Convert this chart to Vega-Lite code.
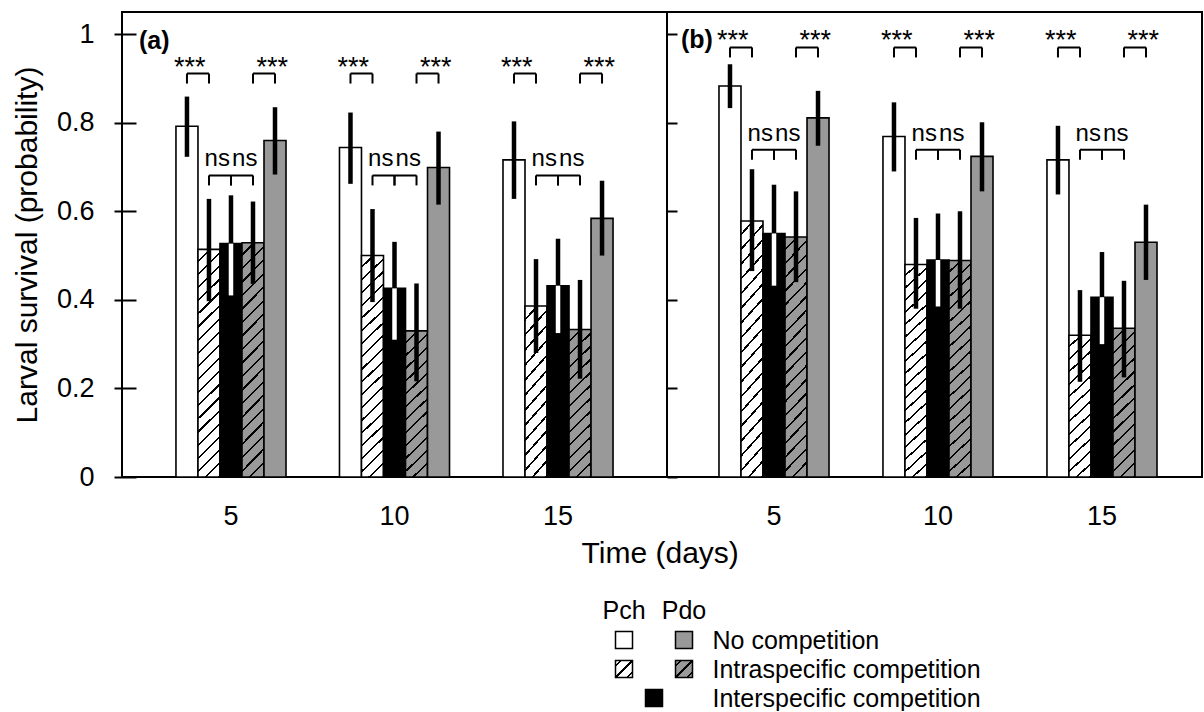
{
  "$schema": "https://vega.github.io/schema/vega-lite/v6.json",
  "padding": {"left": 11, "top": 11, "right": 0, "bottom": 0},
  "config": {
    "font": "Liberation Sans",
    "view": {"stroke": "black", "strokeWidth": 2},
    "axis": {"labelColor": "black", "titleColor": "black", "tickColor": "black", "labelFont": "Liberation Sans", "titleFont": "Liberation Sans"},
    "title": {"color": "black", "font": "Liberation Sans"},
    "text": {"font": "Liberation Sans", "color": "black"}
  },
  "datasets": {
    "bars": [
      {"panel":"a","day":5,"bar":"Pch none","value":0.792,"lo":0.723,"hi":0.859},
      {"panel":"a","day":5,"bar":"Pch intra","value":0.514,"lo":0.397,"hi":0.628},
      {"panel":"a","day":5,"bar":"Inter","value":0.527,"lo":0.41,"hi":0.636},
      {"panel":"a","day":5,"bar":"Pdo intra","value":0.529,"lo":0.436,"hi":0.622},
      {"panel":"a","day":5,"bar":"Pdo none","value":0.76,"lo":0.683,"hi":0.835},
      {"panel":"a","day":10,"bar":"Pch none","value":0.744,"lo":0.662,"hi":0.823},
      {"panel":"a","day":10,"bar":"Pch intra","value":0.5,"lo":0.395,"hi":0.605},
      {"panel":"a","day":10,"bar":"Inter","value":0.426,"lo":0.31,"hi":0.531},
      {"panel":"a","day":10,"bar":"Pdo intra","value":0.33,"lo":0.216,"hi":0.437},
      {"panel":"a","day":10,"bar":"Pdo none","value":0.699,"lo":0.615,"hi":0.78},
      {"panel":"a","day":15,"bar":"Pch none","value":0.716,"lo":0.628,"hi":0.803},
      {"panel":"a","day":15,"bar":"Pch intra","value":0.386,"lo":0.28,"hi":0.492},
      {"panel":"a","day":15,"bar":"Inter","value":0.432,"lo":0.325,"hi":0.538},
      {"panel":"a","day":15,"bar":"Pdo intra","value":0.333,"lo":0.222,"hi":0.445},
      {"panel":"a","day":15,"bar":"Pdo none","value":0.584,"lo":0.5,"hi":0.669},
      {"panel":"b","day":5,"bar":"Pch none","value":0.883,"lo":0.833,"hi":0.932},
      {"panel":"b","day":5,"bar":"Pch intra","value":0.578,"lo":0.465,"hi":0.695},
      {"panel":"b","day":5,"bar":"Inter","value":0.55,"lo":0.432,"hi":0.66},
      {"panel":"b","day":5,"bar":"Pdo intra","value":0.542,"lo":0.44,"hi":0.645},
      {"panel":"b","day":5,"bar":"Pdo none","value":0.811,"lo":0.748,"hi":0.872},
      {"panel":"b","day":10,"bar":"Pch none","value":0.769,"lo":0.69,"hi":0.846},
      {"panel":"b","day":10,"bar":"Pch intra","value":0.48,"lo":0.38,"hi":0.585},
      {"panel":"b","day":10,"bar":"Inter","value":0.49,"lo":0.385,"hi":0.595},
      {"panel":"b","day":10,"bar":"Pdo intra","value":0.489,"lo":0.38,"hi":0.6},
      {"panel":"b","day":10,"bar":"Pdo none","value":0.724,"lo":0.645,"hi":0.801},
      {"panel":"b","day":15,"bar":"Pch none","value":0.716,"lo":0.638,"hi":0.793},
      {"panel":"b","day":15,"bar":"Pch intra","value":0.32,"lo":0.215,"hi":0.422},
      {"panel":"b","day":15,"bar":"Inter","value":0.406,"lo":0.3,"hi":0.508},
      {"panel":"b","day":15,"bar":"Pdo intra","value":0.336,"lo":0.225,"hi":0.443},
      {"panel":"b","day":15,"bar":"Pdo none","value":0.53,"lo":0.445,"hi":0.615}
    ],
    "brackets": [
      {"panel":"a","day":5,"junction":"j1","from":"Pch none","to":"Pch intra","label":"***","top":0.911},
      {"panel":"a","day":5,"junction":"j2","from":"Pch intra","to":"Inter","label":"ns","top":0.681},
      {"panel":"a","day":5,"junction":"j3","from":"Inter","to":"Pdo intra","label":"ns","top":0.681},
      {"panel":"a","day":5,"junction":"j4","from":"Pdo intra","to":"Pdo none","label":"***","top":0.911},
      {"panel":"a","day":10,"junction":"j1","from":"Pch none","to":"Pch intra","label":"***","top":0.911},
      {"panel":"a","day":10,"junction":"j2","from":"Pch intra","to":"Inter","label":"ns","top":0.681},
      {"panel":"a","day":10,"junction":"j3","from":"Inter","to":"Pdo intra","label":"ns","top":0.681},
      {"panel":"a","day":10,"junction":"j4","from":"Pdo intra","to":"Pdo none","label":"***","top":0.911},
      {"panel":"a","day":15,"junction":"j1","from":"Pch none","to":"Pch intra","label":"***","top":0.911},
      {"panel":"a","day":15,"junction":"j2","from":"Pch intra","to":"Inter","label":"ns","top":0.681},
      {"panel":"a","day":15,"junction":"j3","from":"Inter","to":"Pdo intra","label":"ns","top":0.681},
      {"panel":"a","day":15,"junction":"j4","from":"Pdo intra","to":"Pdo none","label":"***","top":0.911},
      {"panel":"b","day":5,"junction":"j1","from":"Pch none","to":"Pch intra","label":"***","top":0.97},
      {"panel":"b","day":5,"junction":"j2","from":"Pch intra","to":"Inter","label":"ns","top":0.739},
      {"panel":"b","day":5,"junction":"j3","from":"Inter","to":"Pdo intra","label":"ns","top":0.739},
      {"panel":"b","day":5,"junction":"j4","from":"Pdo intra","to":"Pdo none","label":"***","top":0.97},
      {"panel":"b","day":10,"junction":"j1","from":"Pch none","to":"Pch intra","label":"***","top":0.97},
      {"panel":"b","day":10,"junction":"j2","from":"Pch intra","to":"Inter","label":"ns","top":0.739},
      {"panel":"b","day":10,"junction":"j3","from":"Inter","to":"Pdo intra","label":"ns","top":0.739},
      {"panel":"b","day":10,"junction":"j4","from":"Pdo intra","to":"Pdo none","label":"***","top":0.97},
      {"panel":"b","day":15,"junction":"j1","from":"Pch none","to":"Pch intra","label":"***","top":0.97},
      {"panel":"b","day":15,"junction":"j2","from":"Pch intra","to":"Inter","label":"ns","top":0.739},
      {"panel":"b","day":15,"junction":"j3","from":"Inter","to":"Pdo intra","label":"ns","top":0.739},
      {"panel":"b","day":15,"junction":"j4","from":"Pdo intra","to":"Pdo none","label":"***","top":0.97}
    ],
    "legend": [
      {"row":"hdr","col":"Pch","label":"Pch"},
      {"row":"hdr","col":"Pdo","label":"Pdo"},
      {"row":"No competition","col":"Pch","key":"Pch none"},
      {"row":"No competition","col":"Pdo","key":"Pdo none"},
      {"row":"Intraspecific competition","col":"Pch","key":"Pch intra"},
      {"row":"Intraspecific competition","col":"Pdo","key":"Pdo intra"},
      {"row":"Interspecific competition","col":"Both","key":"Inter"}
    ]
  },
  "spacing": 30,
  "vconcat": [
    {
      "spacing": 0,
      "bounds": "flush",
      "title": {"text": "Time (days)", "orient": "bottom", "anchor": "middle", "fontSize": 30, "fontWeight": "normal", "offset": 9, "dx": 53},
      "hconcat": [
        {
          "width": 545,
          "height": 465,
          "title": {"text": "(a)", "anchor": "start", "frame": "group", "offset": -42, "dx": 17, "fontSize": 25, "fontWeight": "bold"},
          "resolve": {"scale": {"xOffset": "independent"}},
          "layer": [
            {
              "data": {"name": "bars"},
              "transform": [{"filter": "datum.panel === 'a'"}],
              "mark": {"type": "bar", "stroke": "black", "strokeWidth": 1.6},
              "encoding": {
                "x": {"field": "day", "type": "nominal", "scale": {"domain": [5, 10, 15], "paddingInner": 0.327, "paddingOuter": 0.33}, "axis": {"title": null, "labelAngle": 0, "labelFontSize": 27, "labelPadding": 26, "ticks": false, "tickSize": 0, "domain": false}},
                "xOffset": {"field": "bar", "type": "nominal", "scale": {"domain": ["Pch none", "Pch intra", "Inter", "Pdo intra", "Pdo none"], "paddingInner": 0, "paddingOuter": 0}},
                "y": {"field": "value", "type": "quantitative", "scale": {"domain": [0, 1.05], "nice": false}, "axis": {"title": "Larval survival (probability)", "titleFontSize": 30, "titleFontWeight": "normal", "titlePadding": 14, "labelFontSize": 27, "labelPadding": 20, "tickSize": 22, "tickWidth": 2, "offset": -14, "domain": false, "values": [0, 0.2, 0.4, 0.6, 0.8, 1], "format": "~g", "grid": false}},
                "fill": {
                  "condition": [
                    {"test": "datum.bar === 'Inter'", "value": "#000000"},
                    {"test": "datum.bar === 'Pdo none'", "value": "#999999"},
                    {"test": "datum.bar === 'Pch intra' && datum.value < 0.42", "value": {"gradient": "linear", "x1": 0, "y1": 0, "x2": 0.1623, "y2": 1.1213, "stops": [
                      {"offset":0,"color":"#ffffff"},{"offset":0.0638,"color":"#ffffff"},{"offset":0.0638,"color":"#000000"},{"offset":0.0769,"color":"#000000"},
                      {"offset":0.0769,"color":"#ffffff"},{"offset":0.1408,"color":"#ffffff"},{"offset":0.1408,"color":"#000000"},{"offset":0.1538,"color":"#000000"},
                      {"offset":0.1538,"color":"#ffffff"},{"offset":0.2177,"color":"#ffffff"},{"offset":0.2177,"color":"#000000"},{"offset":0.2308,"color":"#000000"},
                      {"offset":0.2308,"color":"#ffffff"},{"offset":0.2946,"color":"#ffffff"},{"offset":0.2946,"color":"#000000"},{"offset":0.3077,"color":"#000000"},
                      {"offset":0.3077,"color":"#ffffff"},{"offset":0.3715,"color":"#ffffff"},{"offset":0.3715,"color":"#000000"},{"offset":0.3846,"color":"#000000"},
                      {"offset":0.3846,"color":"#ffffff"},{"offset":0.4485,"color":"#ffffff"},{"offset":0.4485,"color":"#000000"},{"offset":0.4615,"color":"#000000"},
                      {"offset":0.4615,"color":"#ffffff"},{"offset":0.5254,"color":"#ffffff"},{"offset":0.5254,"color":"#000000"},{"offset":0.5385,"color":"#000000"},
                      {"offset":0.5385,"color":"#ffffff"},{"offset":0.6023,"color":"#ffffff"},{"offset":0.6023,"color":"#000000"},{"offset":0.6154,"color":"#000000"},
                      {"offset":0.6154,"color":"#ffffff"},{"offset":0.6792,"color":"#ffffff"},{"offset":0.6792,"color":"#000000"},{"offset":0.6923,"color":"#000000"},
                      {"offset":0.6923,"color":"#ffffff"},{"offset":0.7562,"color":"#ffffff"},{"offset":0.7562,"color":"#000000"},{"offset":0.7692,"color":"#000000"},
                      {"offset":0.7692,"color":"#ffffff"},{"offset":0.8331,"color":"#ffffff"},{"offset":0.8331,"color":"#000000"},{"offset":0.8462,"color":"#000000"},
                      {"offset":0.8462,"color":"#ffffff"},{"offset":0.91,"color":"#ffffff"},{"offset":0.91,"color":"#000000"},{"offset":0.9231,"color":"#000000"},
                      {"offset":0.9231,"color":"#ffffff"},{"offset":0.9869,"color":"#ffffff"},{"offset":0.9869,"color":"#000000"},{"offset":1,"color":"#000000"}]}},
                    {"test": "datum.bar === 'Pch intra'", "value": {"gradient": "linear", "x1": 0, "y1": 0, "x2": 0.1039, "y2": 1.0857, "stops": [
                      {"offset":0,"color":"#ffffff"},{"offset":0.0437,"color":"#ffffff"},{"offset":0.0437,"color":"#000000"},{"offset":0.0526,"color":"#000000"},
                      {"offset":0.0526,"color":"#ffffff"},{"offset":0.0963,"color":"#ffffff"},{"offset":0.0963,"color":"#000000"},{"offset":0.1053,"color":"#000000"},
                      {"offset":0.1053,"color":"#ffffff"},{"offset":0.1489,"color":"#ffffff"},{"offset":0.1489,"color":"#000000"},{"offset":0.1579,"color":"#000000"},
                      {"offset":0.1579,"color":"#ffffff"},{"offset":0.2016,"color":"#ffffff"},{"offset":0.2016,"color":"#000000"},{"offset":0.2105,"color":"#000000"},
                      {"offset":0.2105,"color":"#ffffff"},{"offset":0.2542,"color":"#ffffff"},{"offset":0.2542,"color":"#000000"},{"offset":0.2632,"color":"#000000"},
                      {"offset":0.2632,"color":"#ffffff"},{"offset":0.3068,"color":"#ffffff"},{"offset":0.3068,"color":"#000000"},{"offset":0.3158,"color":"#000000"},
                      {"offset":0.3158,"color":"#ffffff"},{"offset":0.3595,"color":"#ffffff"},{"offset":0.3595,"color":"#000000"},{"offset":0.3684,"color":"#000000"},
                      {"offset":0.3684,"color":"#ffffff"},{"offset":0.4121,"color":"#ffffff"},{"offset":0.4121,"color":"#000000"},{"offset":0.4211,"color":"#000000"},
                      {"offset":0.4211,"color":"#ffffff"},{"offset":0.4647,"color":"#ffffff"},{"offset":0.4647,"color":"#000000"},{"offset":0.4737,"color":"#000000"},
                      {"offset":0.4737,"color":"#ffffff"},{"offset":0.5174,"color":"#ffffff"},{"offset":0.5174,"color":"#000000"},{"offset":0.5263,"color":"#000000"},
                      {"offset":0.5263,"color":"#ffffff"},{"offset":0.57,"color":"#ffffff"},{"offset":0.57,"color":"#000000"},{"offset":0.5789,"color":"#000000"},
                      {"offset":0.5789,"color":"#ffffff"},{"offset":0.6226,"color":"#ffffff"},{"offset":0.6226,"color":"#000000"},{"offset":0.6316,"color":"#000000"},
                      {"offset":0.6316,"color":"#ffffff"},{"offset":0.6753,"color":"#ffffff"},{"offset":0.6753,"color":"#000000"},{"offset":0.6842,"color":"#000000"},
                      {"offset":0.6842,"color":"#ffffff"},{"offset":0.7279,"color":"#ffffff"},{"offset":0.7279,"color":"#000000"},{"offset":0.7368,"color":"#000000"},
                      {"offset":0.7368,"color":"#ffffff"},{"offset":0.7805,"color":"#ffffff"},{"offset":0.7805,"color":"#000000"},{"offset":0.7895,"color":"#000000"},
                      {"offset":0.7895,"color":"#ffffff"},{"offset":0.8332,"color":"#ffffff"},{"offset":0.8332,"color":"#000000"},{"offset":0.8421,"color":"#000000"},
                      {"offset":0.8421,"color":"#ffffff"},{"offset":0.8858,"color":"#ffffff"},{"offset":0.8858,"color":"#000000"},{"offset":0.8947,"color":"#000000"},
                      {"offset":0.8947,"color":"#ffffff"},{"offset":0.9384,"color":"#ffffff"},{"offset":0.9384,"color":"#000000"},{"offset":0.9474,"color":"#000000"},
                      {"offset":0.9474,"color":"#ffffff"},{"offset":0.9911,"color":"#ffffff"},{"offset":0.9911,"color":"#000000"},{"offset":1,"color":"#000000"}]}},
                    {"test": "datum.bar === 'Pdo intra' && datum.value < 0.42", "value": {"gradient": "linear", "x1": 0, "y1": 0, "x2": 0.1623, "y2": 1.1213, "stops": [
                      {"offset":0,"color":"#999999"},{"offset":0.0638,"color":"#999999"},{"offset":0.0638,"color":"#000000"},{"offset":0.0769,"color":"#000000"},
                      {"offset":0.0769,"color":"#999999"},{"offset":0.1408,"color":"#999999"},{"offset":0.1408,"color":"#000000"},{"offset":0.1538,"color":"#000000"},
                      {"offset":0.1538,"color":"#999999"},{"offset":0.2177,"color":"#999999"},{"offset":0.2177,"color":"#000000"},{"offset":0.2308,"color":"#000000"},
                      {"offset":0.2308,"color":"#999999"},{"offset":0.2946,"color":"#999999"},{"offset":0.2946,"color":"#000000"},{"offset":0.3077,"color":"#000000"},
                      {"offset":0.3077,"color":"#999999"},{"offset":0.3715,"color":"#999999"},{"offset":0.3715,"color":"#000000"},{"offset":0.3846,"color":"#000000"},
                      {"offset":0.3846,"color":"#999999"},{"offset":0.4485,"color":"#999999"},{"offset":0.4485,"color":"#000000"},{"offset":0.4615,"color":"#000000"},
                      {"offset":0.4615,"color":"#999999"},{"offset":0.5254,"color":"#999999"},{"offset":0.5254,"color":"#000000"},{"offset":0.5385,"color":"#000000"},
                      {"offset":0.5385,"color":"#999999"},{"offset":0.6023,"color":"#999999"},{"offset":0.6023,"color":"#000000"},{"offset":0.6154,"color":"#000000"},
                      {"offset":0.6154,"color":"#999999"},{"offset":0.6792,"color":"#999999"},{"offset":0.6792,"color":"#000000"},{"offset":0.6923,"color":"#000000"},
                      {"offset":0.6923,"color":"#999999"},{"offset":0.7562,"color":"#999999"},{"offset":0.7562,"color":"#000000"},{"offset":0.7692,"color":"#000000"},
                      {"offset":0.7692,"color":"#999999"},{"offset":0.8331,"color":"#999999"},{"offset":0.8331,"color":"#000000"},{"offset":0.8462,"color":"#000000"},
                      {"offset":0.8462,"color":"#999999"},{"offset":0.91,"color":"#999999"},{"offset":0.91,"color":"#000000"},{"offset":0.9231,"color":"#000000"},
                      {"offset":0.9231,"color":"#999999"},{"offset":0.9869,"color":"#999999"},{"offset":0.9869,"color":"#000000"},{"offset":1,"color":"#000000"}]}},
                    {"test": "datum.bar === 'Pdo intra'", "value": {"gradient": "linear", "x1": 0, "y1": 0, "x2": 0.1039, "y2": 1.0857, "stops": [
                      {"offset":0,"color":"#999999"},{"offset":0.0437,"color":"#999999"},{"offset":0.0437,"color":"#000000"},{"offset":0.0526,"color":"#000000"},
                      {"offset":0.0526,"color":"#999999"},{"offset":0.0963,"color":"#999999"},{"offset":0.0963,"color":"#000000"},{"offset":0.1053,"color":"#000000"},
                      {"offset":0.1053,"color":"#999999"},{"offset":0.1489,"color":"#999999"},{"offset":0.1489,"color":"#000000"},{"offset":0.1579,"color":"#000000"},
                      {"offset":0.1579,"color":"#999999"},{"offset":0.2016,"color":"#999999"},{"offset":0.2016,"color":"#000000"},{"offset":0.2105,"color":"#000000"},
                      {"offset":0.2105,"color":"#999999"},{"offset":0.2542,"color":"#999999"},{"offset":0.2542,"color":"#000000"},{"offset":0.2632,"color":"#000000"},
                      {"offset":0.2632,"color":"#999999"},{"offset":0.3068,"color":"#999999"},{"offset":0.3068,"color":"#000000"},{"offset":0.3158,"color":"#000000"},
                      {"offset":0.3158,"color":"#999999"},{"offset":0.3595,"color":"#999999"},{"offset":0.3595,"color":"#000000"},{"offset":0.3684,"color":"#000000"},
                      {"offset":0.3684,"color":"#999999"},{"offset":0.4121,"color":"#999999"},{"offset":0.4121,"color":"#000000"},{"offset":0.4211,"color":"#000000"},
                      {"offset":0.4211,"color":"#999999"},{"offset":0.4647,"color":"#999999"},{"offset":0.4647,"color":"#000000"},{"offset":0.4737,"color":"#000000"},
                      {"offset":0.4737,"color":"#999999"},{"offset":0.5174,"color":"#999999"},{"offset":0.5174,"color":"#000000"},{"offset":0.5263,"color":"#000000"},
                      {"offset":0.5263,"color":"#999999"},{"offset":0.57,"color":"#999999"},{"offset":0.57,"color":"#000000"},{"offset":0.5789,"color":"#000000"},
                      {"offset":0.5789,"color":"#999999"},{"offset":0.6226,"color":"#999999"},{"offset":0.6226,"color":"#000000"},{"offset":0.6316,"color":"#000000"},
                      {"offset":0.6316,"color":"#999999"},{"offset":0.6753,"color":"#999999"},{"offset":0.6753,"color":"#000000"},{"offset":0.6842,"color":"#000000"},
                      {"offset":0.6842,"color":"#999999"},{"offset":0.7279,"color":"#999999"},{"offset":0.7279,"color":"#000000"},{"offset":0.7368,"color":"#000000"},
                      {"offset":0.7368,"color":"#999999"},{"offset":0.7805,"color":"#999999"},{"offset":0.7805,"color":"#000000"},{"offset":0.7895,"color":"#000000"},
                      {"offset":0.7895,"color":"#999999"},{"offset":0.8332,"color":"#999999"},{"offset":0.8332,"color":"#000000"},{"offset":0.8421,"color":"#000000"},
                      {"offset":0.8421,"color":"#999999"},{"offset":0.8858,"color":"#999999"},{"offset":0.8858,"color":"#000000"},{"offset":0.8947,"color":"#000000"},
                      {"offset":0.8947,"color":"#999999"},{"offset":0.9384,"color":"#999999"},{"offset":0.9384,"color":"#000000"},{"offset":0.9474,"color":"#000000"},
                      {"offset":0.9474,"color":"#999999"},{"offset":0.9911,"color":"#999999"},{"offset":0.9911,"color":"#000000"},{"offset":1,"color":"#000000"}]}}
                  ],
                  "value": "#ffffff"
                }
              }
            },
            {
              "data": {"name": "bars"},
              "transform": [{"filter": "datum.panel === 'a'"}],
              "mark": {"type": "rule", "color": "black", "strokeWidth": 4.5},
              "encoding": {
                "x": {"field": "day", "type": "nominal", "scale": {"domain": [5, 10, 15], "paddingInner": 0.327, "paddingOuter": 0.33}},
                "xOffset": {"field": "bar", "type": "nominal", "scale": {"domain": ["Pch none", "Pch intra", "Inter", "Pdo intra", "Pdo none"], "paddingInner": 0, "paddingOuter": 0}},
                "y": {"field": "lo", "type": "quantitative", "scale": {"domain": [0, 1.05], "nice": false}},
                "y2": {"field": "hi"}
              }
            },
            {
              "data": {"name": "bars"},
              "transform": [{"filter": "datum.panel === 'a' && datum.bar === 'Inter'"}],
              "mark": {"type": "rule", "color": "white", "strokeWidth": 4.5},
              "encoding": {
                "x": {"field": "day", "type": "nominal", "scale": {"domain": [5, 10, 15], "paddingInner": 0.327, "paddingOuter": 0.33}},
                "xOffset": {"field": "bar", "type": "nominal", "scale": {"domain": ["Pch none", "Pch intra", "Inter", "Pdo intra", "Pdo none"], "paddingInner": 0, "paddingOuter": 0}},
                "y": {"field": "lo", "type": "quantitative", "scale": {"domain": [0, 1.05], "nice": false}},
                "y2": {"field": "value"}
              }
            },
            {
              "data": {"name": "brackets"},
              "transform": [{"filter": "datum.panel === 'a'"}],
              "mark": {"type": "rule", "color": "black", "strokeWidth": 2, "y2Offset": 10},
              "encoding": {
                "x": {"field": "day", "type": "nominal", "scale": {"domain": [5, 10, 15], "paddingInner": 0.327, "paddingOuter": 0.33}},
                "xOffset": {"field": "from", "type": "nominal", "scale": {"domain": ["Pch none", "Pch intra", "Inter", "Pdo intra", "Pdo none"], "paddingInner": 0, "paddingOuter": 0}},
                "y": {"field": "top", "type": "quantitative", "scale": {"domain": [0, 1.05], "nice": false}},
                "y2": {"field": "top"}
              }
            },
            {
              "data": {"name": "brackets"},
              "transform": [{"filter": "datum.panel === 'a'"}],
              "mark": {"type": "rule", "color": "black", "strokeWidth": 2, "y2Offset": 10},
              "encoding": {
                "x": {"field": "day", "type": "nominal", "scale": {"domain": [5, 10, 15], "paddingInner": 0.327, "paddingOuter": 0.33}},
                "xOffset": {"field": "to", "type": "nominal", "scale": {"domain": ["Pch none", "Pch intra", "Inter", "Pdo intra", "Pdo none"], "paddingInner": 0, "paddingOuter": 0}},
                "y": {"field": "top", "type": "quantitative", "scale": {"domain": [0, 1.05], "nice": false}},
                "y2": {"field": "top"}
              }
            },
            {
              "data": {"name": "brackets"},
              "transform": [{"filter": "datum.panel === 'a'"}],
              "mark": {"type": "rect", "fill": null, "stroke": "black", "strokeWidth": 2},
              "encoding": {
                "x": {"field": "day", "type": "nominal", "scale": {"domain": [5, 10, 15], "paddingInner": 0.327, "paddingOuter": 0.33}},
                "xOffset": {"field": "junction", "type": "nominal", "scale": {"domain": ["j1", "j2", "j3", "j4"], "paddingInner": 0, "paddingOuter": 0.5}},
                "y": {"field": "top", "type": "quantitative", "scale": {"domain": [0, 1.05], "nice": false}},
                "y2": {"field": "top"}
              }
            },
            {
              "data": {"name": "brackets"},
              "transform": [{"filter": "datum.panel === 'a' && datum.label === '***'"}],
              "mark": {"type": "text", "fontSize": 27, "baseline": "alphabetic", "dy": 2},
              "encoding": {
                "x": {"field": "day", "type": "nominal", "scale": {"domain": [5, 10, 15], "paddingInner": 0.327, "paddingOuter": 0.33}},
                "xOffset": {"field": "junction", "type": "nominal", "scale": {"domain": ["j1", "j2", "j3", "j4"], "paddingInner": 0, "paddingOuter": 0.5}},
                "y": {"field": "top", "type": "quantitative", "scale": {"domain": [0, 1.05], "nice": false}},
                "text": {"field": "label"}
              }
            },
            {
              "data": {"name": "brackets"},
              "transform": [{"filter": "datum.panel === 'a' && datum.label === 'ns'"}],
              "mark": {"type": "text", "fontSize": 24, "baseline": "alphabetic", "dy": -9},
              "encoding": {
                "x": {"field": "day", "type": "nominal", "scale": {"domain": [5, 10, 15], "paddingInner": 0.327, "paddingOuter": 0.33}},
                "xOffset": {"field": "junction", "type": "nominal", "scale": {"domain": ["j1", "j2", "j3", "j4"], "paddingInner": 0, "paddingOuter": 0.5}},
                "y": {"field": "top", "type": "quantitative", "scale": {"domain": [0, 1.05], "nice": false}},
                "text": {"field": "label"}
              }
            }
          ]
        },
        {
          "width": 535,
          "height": 465,
          "title": {"text": "(b)", "anchor": "start", "frame": "group", "offset": -41, "dx": 14, "fontSize": 25, "fontWeight": "bold"},
          "resolve": {"scale": {"xOffset": "independent"}},
          "layer": [
            {
              "data": {"name": "bars"},
              "transform": [{"filter": "datum.panel === 'b'"}],
              "mark": {"type": "bar", "stroke": "black", "strokeWidth": 1.6},
              "encoding": {
                "x": {"field": "day", "type": "nominal", "scale": {"domain": [5, 10, 15], "paddingInner": 0.329, "paddingOuter": 0.2957, "align": 0.536}, "axis": {"title": null, "labelAngle": 0, "labelFontSize": 27, "labelPadding": 26, "ticks": false, "tickSize": 0, "domain": false}},
                "xOffset": {"field": "bar", "type": "nominal", "scale": {"domain": ["Pch none", "Pch intra", "Inter", "Pdo intra", "Pdo none"], "paddingInner": 0, "paddingOuter": 0}},
                "y": {"field": "value", "type": "quantitative", "scale": {"domain": [0, 1.05], "nice": false}, "axis": {"title": null, "labels": false, "tickSize": 10, "tickWidth": 2, "offset": -10, "domain": false, "values": [0, 0.2, 0.4, 0.6, 0.8, 1], "grid": false}},
                "fill": {
                  "condition": [
                    {"test": "datum.bar === 'Inter'", "value": "#000000"},
                    {"test": "datum.bar === 'Pdo none'", "value": "#999999"},
                    {"test": "datum.bar === 'Pch intra' && datum.value < 0.42", "value": {"gradient": "linear", "x1": 0, "y1": 0, "x2": 0.1623, "y2": 1.1213, "stops": [
                      {"offset":0,"color":"#ffffff"},{"offset":0.0638,"color":"#ffffff"},{"offset":0.0638,"color":"#000000"},{"offset":0.0769,"color":"#000000"},
                      {"offset":0.0769,"color":"#ffffff"},{"offset":0.1408,"color":"#ffffff"},{"offset":0.1408,"color":"#000000"},{"offset":0.1538,"color":"#000000"},
                      {"offset":0.1538,"color":"#ffffff"},{"offset":0.2177,"color":"#ffffff"},{"offset":0.2177,"color":"#000000"},{"offset":0.2308,"color":"#000000"},
                      {"offset":0.2308,"color":"#ffffff"},{"offset":0.2946,"color":"#ffffff"},{"offset":0.2946,"color":"#000000"},{"offset":0.3077,"color":"#000000"},
                      {"offset":0.3077,"color":"#ffffff"},{"offset":0.3715,"color":"#ffffff"},{"offset":0.3715,"color":"#000000"},{"offset":0.3846,"color":"#000000"},
                      {"offset":0.3846,"color":"#ffffff"},{"offset":0.4485,"color":"#ffffff"},{"offset":0.4485,"color":"#000000"},{"offset":0.4615,"color":"#000000"},
                      {"offset":0.4615,"color":"#ffffff"},{"offset":0.5254,"color":"#ffffff"},{"offset":0.5254,"color":"#000000"},{"offset":0.5385,"color":"#000000"},
                      {"offset":0.5385,"color":"#ffffff"},{"offset":0.6023,"color":"#ffffff"},{"offset":0.6023,"color":"#000000"},{"offset":0.6154,"color":"#000000"},
                      {"offset":0.6154,"color":"#ffffff"},{"offset":0.6792,"color":"#ffffff"},{"offset":0.6792,"color":"#000000"},{"offset":0.6923,"color":"#000000"},
                      {"offset":0.6923,"color":"#ffffff"},{"offset":0.7562,"color":"#ffffff"},{"offset":0.7562,"color":"#000000"},{"offset":0.7692,"color":"#000000"},
                      {"offset":0.7692,"color":"#ffffff"},{"offset":0.8331,"color":"#ffffff"},{"offset":0.8331,"color":"#000000"},{"offset":0.8462,"color":"#000000"},
                      {"offset":0.8462,"color":"#ffffff"},{"offset":0.91,"color":"#ffffff"},{"offset":0.91,"color":"#000000"},{"offset":0.9231,"color":"#000000"},
                      {"offset":0.9231,"color":"#ffffff"},{"offset":0.9869,"color":"#ffffff"},{"offset":0.9869,"color":"#000000"},{"offset":1,"color":"#000000"}]}},
                    {"test": "datum.bar === 'Pch intra'", "value": {"gradient": "linear", "x1": 0, "y1": 0, "x2": 0.1039, "y2": 1.0857, "stops": [
                      {"offset":0,"color":"#ffffff"},{"offset":0.0437,"color":"#ffffff"},{"offset":0.0437,"color":"#000000"},{"offset":0.0526,"color":"#000000"},
                      {"offset":0.0526,"color":"#ffffff"},{"offset":0.0963,"color":"#ffffff"},{"offset":0.0963,"color":"#000000"},{"offset":0.1053,"color":"#000000"},
                      {"offset":0.1053,"color":"#ffffff"},{"offset":0.1489,"color":"#ffffff"},{"offset":0.1489,"color":"#000000"},{"offset":0.1579,"color":"#000000"},
                      {"offset":0.1579,"color":"#ffffff"},{"offset":0.2016,"color":"#ffffff"},{"offset":0.2016,"color":"#000000"},{"offset":0.2105,"color":"#000000"},
                      {"offset":0.2105,"color":"#ffffff"},{"offset":0.2542,"color":"#ffffff"},{"offset":0.2542,"color":"#000000"},{"offset":0.2632,"color":"#000000"},
                      {"offset":0.2632,"color":"#ffffff"},{"offset":0.3068,"color":"#ffffff"},{"offset":0.3068,"color":"#000000"},{"offset":0.3158,"color":"#000000"},
                      {"offset":0.3158,"color":"#ffffff"},{"offset":0.3595,"color":"#ffffff"},{"offset":0.3595,"color":"#000000"},{"offset":0.3684,"color":"#000000"},
                      {"offset":0.3684,"color":"#ffffff"},{"offset":0.4121,"color":"#ffffff"},{"offset":0.4121,"color":"#000000"},{"offset":0.4211,"color":"#000000"},
                      {"offset":0.4211,"color":"#ffffff"},{"offset":0.4647,"color":"#ffffff"},{"offset":0.4647,"color":"#000000"},{"offset":0.4737,"color":"#000000"},
                      {"offset":0.4737,"color":"#ffffff"},{"offset":0.5174,"color":"#ffffff"},{"offset":0.5174,"color":"#000000"},{"offset":0.5263,"color":"#000000"},
                      {"offset":0.5263,"color":"#ffffff"},{"offset":0.57,"color":"#ffffff"},{"offset":0.57,"color":"#000000"},{"offset":0.5789,"color":"#000000"},
                      {"offset":0.5789,"color":"#ffffff"},{"offset":0.6226,"color":"#ffffff"},{"offset":0.6226,"color":"#000000"},{"offset":0.6316,"color":"#000000"},
                      {"offset":0.6316,"color":"#ffffff"},{"offset":0.6753,"color":"#ffffff"},{"offset":0.6753,"color":"#000000"},{"offset":0.6842,"color":"#000000"},
                      {"offset":0.6842,"color":"#ffffff"},{"offset":0.7279,"color":"#ffffff"},{"offset":0.7279,"color":"#000000"},{"offset":0.7368,"color":"#000000"},
                      {"offset":0.7368,"color":"#ffffff"},{"offset":0.7805,"color":"#ffffff"},{"offset":0.7805,"color":"#000000"},{"offset":0.7895,"color":"#000000"},
                      {"offset":0.7895,"color":"#ffffff"},{"offset":0.8332,"color":"#ffffff"},{"offset":0.8332,"color":"#000000"},{"offset":0.8421,"color":"#000000"},
                      {"offset":0.8421,"color":"#ffffff"},{"offset":0.8858,"color":"#ffffff"},{"offset":0.8858,"color":"#000000"},{"offset":0.8947,"color":"#000000"},
                      {"offset":0.8947,"color":"#ffffff"},{"offset":0.9384,"color":"#ffffff"},{"offset":0.9384,"color":"#000000"},{"offset":0.9474,"color":"#000000"},
                      {"offset":0.9474,"color":"#ffffff"},{"offset":0.9911,"color":"#ffffff"},{"offset":0.9911,"color":"#000000"},{"offset":1,"color":"#000000"}]}},
                    {"test": "datum.bar === 'Pdo intra' && datum.value < 0.42", "value": {"gradient": "linear", "x1": 0, "y1": 0, "x2": 0.1623, "y2": 1.1213, "stops": [
                      {"offset":0,"color":"#999999"},{"offset":0.0638,"color":"#999999"},{"offset":0.0638,"color":"#000000"},{"offset":0.0769,"color":"#000000"},
                      {"offset":0.0769,"color":"#999999"},{"offset":0.1408,"color":"#999999"},{"offset":0.1408,"color":"#000000"},{"offset":0.1538,"color":"#000000"},
                      {"offset":0.1538,"color":"#999999"},{"offset":0.2177,"color":"#999999"},{"offset":0.2177,"color":"#000000"},{"offset":0.2308,"color":"#000000"},
                      {"offset":0.2308,"color":"#999999"},{"offset":0.2946,"color":"#999999"},{"offset":0.2946,"color":"#000000"},{"offset":0.3077,"color":"#000000"},
                      {"offset":0.3077,"color":"#999999"},{"offset":0.3715,"color":"#999999"},{"offset":0.3715,"color":"#000000"},{"offset":0.3846,"color":"#000000"},
                      {"offset":0.3846,"color":"#999999"},{"offset":0.4485,"color":"#999999"},{"offset":0.4485,"color":"#000000"},{"offset":0.4615,"color":"#000000"},
                      {"offset":0.4615,"color":"#999999"},{"offset":0.5254,"color":"#999999"},{"offset":0.5254,"color":"#000000"},{"offset":0.5385,"color":"#000000"},
                      {"offset":0.5385,"color":"#999999"},{"offset":0.6023,"color":"#999999"},{"offset":0.6023,"color":"#000000"},{"offset":0.6154,"color":"#000000"},
                      {"offset":0.6154,"color":"#999999"},{"offset":0.6792,"color":"#999999"},{"offset":0.6792,"color":"#000000"},{"offset":0.6923,"color":"#000000"},
                      {"offset":0.6923,"color":"#999999"},{"offset":0.7562,"color":"#999999"},{"offset":0.7562,"color":"#000000"},{"offset":0.7692,"color":"#000000"},
                      {"offset":0.7692,"color":"#999999"},{"offset":0.8331,"color":"#999999"},{"offset":0.8331,"color":"#000000"},{"offset":0.8462,"color":"#000000"},
                      {"offset":0.8462,"color":"#999999"},{"offset":0.91,"color":"#999999"},{"offset":0.91,"color":"#000000"},{"offset":0.9231,"color":"#000000"},
                      {"offset":0.9231,"color":"#999999"},{"offset":0.9869,"color":"#999999"},{"offset":0.9869,"color":"#000000"},{"offset":1,"color":"#000000"}]}},
                    {"test": "datum.bar === 'Pdo intra'", "value": {"gradient": "linear", "x1": 0, "y1": 0, "x2": 0.1039, "y2": 1.0857, "stops": [
                      {"offset":0,"color":"#999999"},{"offset":0.0437,"color":"#999999"},{"offset":0.0437,"color":"#000000"},{"offset":0.0526,"color":"#000000"},
                      {"offset":0.0526,"color":"#999999"},{"offset":0.0963,"color":"#999999"},{"offset":0.0963,"color":"#000000"},{"offset":0.1053,"color":"#000000"},
                      {"offset":0.1053,"color":"#999999"},{"offset":0.1489,"color":"#999999"},{"offset":0.1489,"color":"#000000"},{"offset":0.1579,"color":"#000000"},
                      {"offset":0.1579,"color":"#999999"},{"offset":0.2016,"color":"#999999"},{"offset":0.2016,"color":"#000000"},{"offset":0.2105,"color":"#000000"},
                      {"offset":0.2105,"color":"#999999"},{"offset":0.2542,"color":"#999999"},{"offset":0.2542,"color":"#000000"},{"offset":0.2632,"color":"#000000"},
                      {"offset":0.2632,"color":"#999999"},{"offset":0.3068,"color":"#999999"},{"offset":0.3068,"color":"#000000"},{"offset":0.3158,"color":"#000000"},
                      {"offset":0.3158,"color":"#999999"},{"offset":0.3595,"color":"#999999"},{"offset":0.3595,"color":"#000000"},{"offset":0.3684,"color":"#000000"},
                      {"offset":0.3684,"color":"#999999"},{"offset":0.4121,"color":"#999999"},{"offset":0.4121,"color":"#000000"},{"offset":0.4211,"color":"#000000"},
                      {"offset":0.4211,"color":"#999999"},{"offset":0.4647,"color":"#999999"},{"offset":0.4647,"color":"#000000"},{"offset":0.4737,"color":"#000000"},
                      {"offset":0.4737,"color":"#999999"},{"offset":0.5174,"color":"#999999"},{"offset":0.5174,"color":"#000000"},{"offset":0.5263,"color":"#000000"},
                      {"offset":0.5263,"color":"#999999"},{"offset":0.57,"color":"#999999"},{"offset":0.57,"color":"#000000"},{"offset":0.5789,"color":"#000000"},
                      {"offset":0.5789,"color":"#999999"},{"offset":0.6226,"color":"#999999"},{"offset":0.6226,"color":"#000000"},{"offset":0.6316,"color":"#000000"},
                      {"offset":0.6316,"color":"#999999"},{"offset":0.6753,"color":"#999999"},{"offset":0.6753,"color":"#000000"},{"offset":0.6842,"color":"#000000"},
                      {"offset":0.6842,"color":"#999999"},{"offset":0.7279,"color":"#999999"},{"offset":0.7279,"color":"#000000"},{"offset":0.7368,"color":"#000000"},
                      {"offset":0.7368,"color":"#999999"},{"offset":0.7805,"color":"#999999"},{"offset":0.7805,"color":"#000000"},{"offset":0.7895,"color":"#000000"},
                      {"offset":0.7895,"color":"#999999"},{"offset":0.8332,"color":"#999999"},{"offset":0.8332,"color":"#000000"},{"offset":0.8421,"color":"#000000"},
                      {"offset":0.8421,"color":"#999999"},{"offset":0.8858,"color":"#999999"},{"offset":0.8858,"color":"#000000"},{"offset":0.8947,"color":"#000000"},
                      {"offset":0.8947,"color":"#999999"},{"offset":0.9384,"color":"#999999"},{"offset":0.9384,"color":"#000000"},{"offset":0.9474,"color":"#000000"},
                      {"offset":0.9474,"color":"#999999"},{"offset":0.9911,"color":"#999999"},{"offset":0.9911,"color":"#000000"},{"offset":1,"color":"#000000"}]}}
                  ],
                  "value": "#ffffff"
                }
              }
            },
            {
              "data": {"name": "bars"},
              "transform": [{"filter": "datum.panel === 'b'"}],
              "mark": {"type": "rule", "color": "black", "strokeWidth": 4.5},
              "encoding": {
                "x": {"field": "day", "type": "nominal", "scale": {"domain": [5, 10, 15], "paddingInner": 0.329, "paddingOuter": 0.2957, "align": 0.536}},
                "xOffset": {"field": "bar", "type": "nominal", "scale": {"domain": ["Pch none", "Pch intra", "Inter", "Pdo intra", "Pdo none"], "paddingInner": 0, "paddingOuter": 0}},
                "y": {"field": "lo", "type": "quantitative", "scale": {"domain": [0, 1.05], "nice": false}},
                "y2": {"field": "hi"}
              }
            },
            {
              "data": {"name": "bars"},
              "transform": [{"filter": "datum.panel === 'b' && datum.bar === 'Inter'"}],
              "mark": {"type": "rule", "color": "white", "strokeWidth": 4.5},
              "encoding": {
                "x": {"field": "day", "type": "nominal", "scale": {"domain": [5, 10, 15], "paddingInner": 0.329, "paddingOuter": 0.2957, "align": 0.536}},
                "xOffset": {"field": "bar", "type": "nominal", "scale": {"domain": ["Pch none", "Pch intra", "Inter", "Pdo intra", "Pdo none"], "paddingInner": 0, "paddingOuter": 0}},
                "y": {"field": "lo", "type": "quantitative", "scale": {"domain": [0, 1.05], "nice": false}},
                "y2": {"field": "value"}
              }
            },
            {
              "data": {"name": "brackets"},
              "transform": [{"filter": "datum.panel === 'b'"}],
              "mark": {"type": "rule", "color": "black", "strokeWidth": 2, "y2Offset": 10},
              "encoding": {
                "x": {"field": "day", "type": "nominal", "scale": {"domain": [5, 10, 15], "paddingInner": 0.329, "paddingOuter": 0.2957, "align": 0.536}},
                "xOffset": {"field": "from", "type": "nominal", "scale": {"domain": ["Pch none", "Pch intra", "Inter", "Pdo intra", "Pdo none"], "paddingInner": 0, "paddingOuter": 0}},
                "y": {"field": "top", "type": "quantitative", "scale": {"domain": [0, 1.05], "nice": false}},
                "y2": {"field": "top"}
              }
            },
            {
              "data": {"name": "brackets"},
              "transform": [{"filter": "datum.panel === 'b'"}],
              "mark": {"type": "rule", "color": "black", "strokeWidth": 2, "y2Offset": 10},
              "encoding": {
                "x": {"field": "day", "type": "nominal", "scale": {"domain": [5, 10, 15], "paddingInner": 0.329, "paddingOuter": 0.2957, "align": 0.536}},
                "xOffset": {"field": "to", "type": "nominal", "scale": {"domain": ["Pch none", "Pch intra", "Inter", "Pdo intra", "Pdo none"], "paddingInner": 0, "paddingOuter": 0}},
                "y": {"field": "top", "type": "quantitative", "scale": {"domain": [0, 1.05], "nice": false}},
                "y2": {"field": "top"}
              }
            },
            {
              "data": {"name": "brackets"},
              "transform": [{"filter": "datum.panel === 'b'"}],
              "mark": {"type": "rect", "fill": null, "stroke": "black", "strokeWidth": 2},
              "encoding": {
                "x": {"field": "day", "type": "nominal", "scale": {"domain": [5, 10, 15], "paddingInner": 0.329, "paddingOuter": 0.2957, "align": 0.536}},
                "xOffset": {"field": "junction", "type": "nominal", "scale": {"domain": ["j1", "j2", "j3", "j4"], "paddingInner": 0, "paddingOuter": 0.5}},
                "y": {"field": "top", "type": "quantitative", "scale": {"domain": [0, 1.05], "nice": false}},
                "y2": {"field": "top"}
              }
            },
            {
              "data": {"name": "brackets"},
              "transform": [{"filter": "datum.panel === 'b' && datum.label === '***'"}],
              "mark": {"type": "text", "fontSize": 27, "baseline": "alphabetic", "dy": 2},
              "encoding": {
                "x": {"field": "day", "type": "nominal", "scale": {"domain": [5, 10, 15], "paddingInner": 0.329, "paddingOuter": 0.2957, "align": 0.536}},
                "xOffset": {"field": "junction", "type": "nominal", "scale": {"domain": ["j1", "j2", "j3", "j4"], "paddingInner": 0, "paddingOuter": 0.5}},
                "y": {"field": "top", "type": "quantitative", "scale": {"domain": [0, 1.05], "nice": false}},
                "text": {"field": "label"}
              }
            },
            {
              "data": {"name": "brackets"},
              "transform": [{"filter": "datum.panel === 'b' && datum.label === 'ns'"}],
              "mark": {"type": "text", "fontSize": 24, "baseline": "alphabetic", "dy": -9},
              "encoding": {
                "x": {"field": "day", "type": "nominal", "scale": {"domain": [5, 10, 15], "paddingInner": 0.329, "paddingOuter": 0.2957, "align": 0.536}},
                "xOffset": {"field": "junction", "type": "nominal", "scale": {"domain": ["j1", "j2", "j3", "j4"], "paddingInner": 0, "paddingOuter": 0.5}},
                "y": {"field": "top", "type": "quantitative", "scale": {"domain": [0, 1.05], "nice": false}},
                "text": {"field": "label"}
              }
            }
          ]
        }
      ]
    },
    {
      "width": 588,
      "height": 87,
      "view": {"stroke": null},
      "data": {"name": "legend"},
      "layer": [
        {
          "transform": [{"filter": "datum.row !== 'hdr'"}],
          "mark": {"type": "point", "shape": "square", "filled": true, "size": 289, "stroke": "black", "strokeWidth": 1.5, "opacity": 1},
          "encoding": {
            "x": {"field": "col", "type": "nominal", "scale": {"type": "point", "domain": ["Pch", "Both", "Pdo"], "range": [502, 562], "padding": 0}, "axis": null},
            "y": {"field": "row", "type": "nominal", "scale": {"type": "point", "domain": ["hdr", "No competition", "Intraspecific competition", "Interspecific competition"], "padding": 0}, "axis": {"orient": "right", "title": null, "labelExpr": "datum.value === 'hdr' ? '' : datum.value", "ticks": false, "tickSize": 0, "domain": false, "labelFontSize": 25, "labelPadding": 2, "labelLimit": 600, "grid": false}},
            "fill": {
              "condition": [
                {"test": "datum.key === 'Inter'", "value": "#000000"},
                {"test": "datum.key === 'Pdo none'", "value": "#999999"},
                {"test": "datum.key === 'Pch intra'", "value": {"gradient": "linear", "x1": 0, "y1": 0, "x2": 1, "y2": 1, "stops": [
                  {"offset":0,"color":"#ffffff"},{"offset":0.135,"color":"#ffffff"},{"offset":0.135,"color":"#000000"},{"offset":0.2,"color":"#000000"},
                  {"offset":0.2,"color":"#ffffff"},{"offset":0.468,"color":"#ffffff"},{"offset":0.468,"color":"#000000"},{"offset":0.533,"color":"#000000"},
                  {"offset":0.533,"color":"#ffffff"},{"offset":0.8,"color":"#ffffff"},{"offset":0.8,"color":"#000000"},{"offset":0.865,"color":"#000000"},
                  {"offset":0.865,"color":"#ffffff"},{"offset":1,"color":"#ffffff"}]}},
                {"test": "datum.key === 'Pdo intra'", "value": {"gradient": "linear", "x1": 0, "y1": 0, "x2": 1, "y2": 1, "stops": [
                  {"offset":0,"color":"#999999"},{"offset":0.135,"color":"#999999"},{"offset":0.135,"color":"#000000"},{"offset":0.2,"color":"#000000"},
                  {"offset":0.2,"color":"#999999"},{"offset":0.468,"color":"#999999"},{"offset":0.468,"color":"#000000"},{"offset":0.533,"color":"#000000"},
                  {"offset":0.533,"color":"#999999"},{"offset":0.8,"color":"#999999"},{"offset":0.8,"color":"#000000"},{"offset":0.865,"color":"#000000"},
                  {"offset":0.865,"color":"#999999"},{"offset":1,"color":"#999999"}]}}
              ],
              "value": "#ffffff"
            }
          }
        },
        {
          "transform": [{"filter": "datum.row === 'hdr'"}],
          "mark": {"type": "text", "fontSize": 25},
          "encoding": {
            "x": {"field": "col", "type": "nominal", "scale": {"type": "point", "domain": ["Pch", "Both", "Pdo"], "range": [502, 562], "padding": 0}},
            "y": {"field": "row", "type": "nominal", "scale": {"type": "point", "domain": ["hdr", "No competition", "Intraspecific competition", "Interspecific competition"], "padding": 0}},
            "text": {"field": "label"}
          }
        }
      ]
    }
  ]
}
